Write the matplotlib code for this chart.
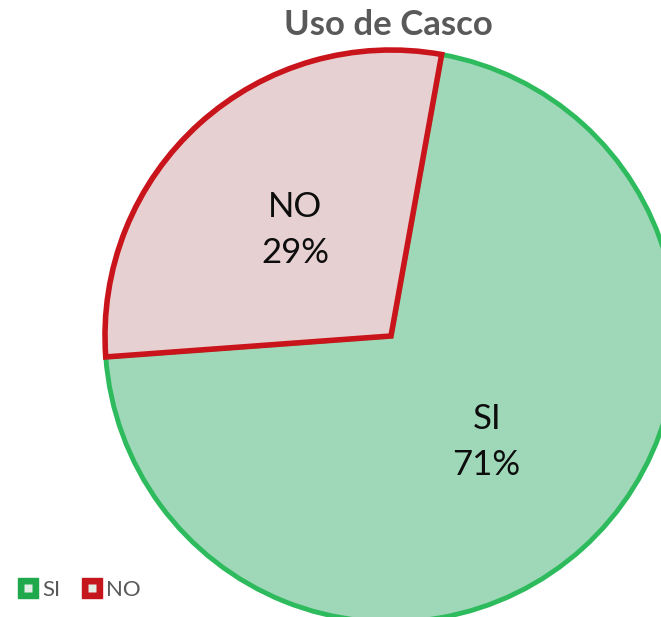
import matplotlib.pyplot as plt
import numpy as np
from matplotlib.lines import Line2D
from matplotlib.legend_handler import HandlerTuple

# data
categories = ['NO', 'SI']
values = [29, 71]
fill_colors = ['#e6d0d1', '#9fd8b9']
edge_colors = ['#c8141a', '#2dbb5d']
legend_colors = ['#c4161c', '#1fa84c']
title = 'Uso de Casco'

plt.rcParams['font.family'] = ['Lato', 'DejaVu Sans']

fig = plt.figure(figsize=(6.61, 6.17), dpi=100)
ax = fig.add_axes([0, 0, 1, 1])

# pie centre (391, 336) px, radius 286 px
cx, cy, r = 391, 336, 286
W, H = 661, 617

wedges, _ = ax.pie(values, startangle=79.8, counterclock=True,
                   colors=fill_colors, radius=1,
                   wedgeprops=dict(linewidth=3.5))
for i, w in enumerate(wedges):
    w.set_edgecolor(edge_colors[i])
    w.set_joinstyle('miter')
wedges[0].set_zorder(3)
wedges[0].set_linewidth(4)

ax.set_aspect('auto')
ax.set_xlim(-cx / r, (W - cx) / r)
ax.set_ylim(-(H - cy) / r, cy / r)
ax.axis('off')

total = sum(values)
for i, w in enumerate(wedges):
    mid = np.deg2rad((w.theta1 + w.theta2) / 2)
    x, y = 0.5 * np.cos(mid), 0.5 * np.sin(mid)
    pct = round(100 * values[i] / total)
    ax.text(x, y, f'{categories[i]}\n{pct}%', ha='center', va='center',
            fontsize=25, color='#0d0d0d', linespacing=1.55, zorder=5)

fig.text(388 / W, 1 - 25 / H, title, ha='center', va='center',
         fontsize=25, fontweight='bold', color='#595959')

# legend, SI first
handles = []
labels = []
for i in [1, 0]:
    outer = Line2D([], [], linestyle='none', marker='s', markersize=14,
                   markerfacecolor=legend_colors[i], markeredgecolor=legend_colors[i])
    inner = Line2D([], [], linestyle='none', marker='s', markersize=5.8,
                   markerfacecolor='#e3efe6', markeredgecolor='none')
    handles.append((outer, inner))
    labels.append(categories[i])
fig.legend(handles, labels, handler_map={tuple: HandlerTuple(ndivide=1)},
           loc='center left', bbox_to_anchor=(17 / W, 1 - 590 / H),
           ncol=2, frameon=False, fontsize=16, labelcolor='#595959',
           handlelength=1.0, handletextpad=0.15, columnspacing=0.9,
           borderpad=0, borderaxespad=0)

fig.savefig('out.png', dpi=100)
